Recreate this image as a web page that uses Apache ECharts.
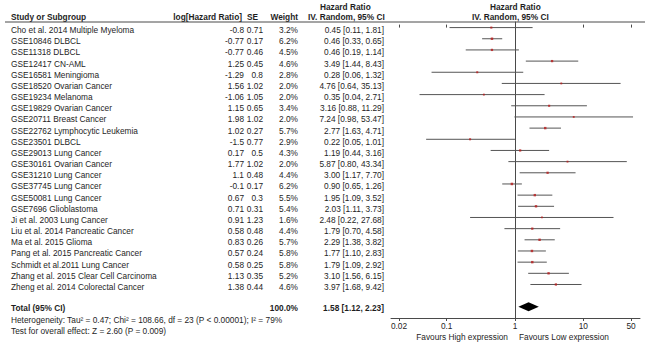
<!DOCTYPE html>
<html>
<head>
<meta charset="utf-8">
<script src="https://cdn.jsdelivr.net/npm/echarts@6/dist/echarts.min.js"></script>
<style>
  html, body { margin: 0; padding: 0; background: #fff; }
  #chart { width: 650px; height: 344px; }
</style>
</head>
<body>
<div id="chart"></div>
<script>
// study rows
const studies = [
  'Cho et al. 2014 Multiple Myeloma', 'GSE10846 DLBCL', 'GSE11318 DLBCL', 'GSE12417 CN-AML',
  'GSE16581 Meningioma', 'GSE18520 Ovarian Cancer', 'GSE19234 Melanoma', 'GSE19829 Ovarian Cancer',
  'GSE20711 Breast Cancer', 'GSE22762 Lymphocytic Leukemia', 'GSE23501 DLBCL', 'GSE29013 Lung Cancer',
  'GSE30161 Ovarian Cancer', 'GSE31210 Lung Cancer', 'GSE37745 Lung Cancer', 'GSE50081 Lung Cancer',
  'GSE7696 Glioblastoma', 'Ji et al. 2003 Lung Cancer', 'Liu et al. 2014 Pancreatic Cancer',
  'Ma et al. 2015 Glioma', 'Pang et al. 2015 Pancreatic Cancer', 'Schmidt et al.2011 Lung Cancer',
  'Zhang et al. 2015 Clear Cell Carcinoma', 'Zheng et al. 2014 Colorectal Cancer'
]
const logHR = [-0.8, -0.77, -0.77, 1.25, -1.29, 1.56, -1.06, 1.15, 1.98, 1.02, -1.5, 0.17, 1.77, 1.1, -0.1, 0.67, 0.71, 0.91, 0.58, 0.83, 0.57, 0.58, 1.13, 1.38]
const se = [0.71, 0.17, 0.46, 0.45, 0.8, 1.02, 1.05, 0.65, 1.02, 0.27, 0.77, 0.5, 1.02, 0.48, 0.17, 0.3, 0.31, 1.23, 0.48, 0.26, 0.24, 0.25, 0.35, 0.44]
const weight = [3.2, 6.2, 4.5, 4.6, 2.8, 2.0, 2.0, 3.4, 2.0, 5.7, 2.9, 4.3, 2.0, 4.4, 6.2, 5.5, 5.4, 1.6, 4.4, 5.7, 5.8, 5.8, 5.2, 4.6]
const hr = [0.45, 0.46, 0.46, 3.49, 0.28, 4.76, 0.35, 3.16, 7.24, 2.77, 0.22, 1.19, 5.87, 3.00, 0.90, 1.95, 2.03, 2.48, 1.79, 2.29, 1.77, 1.79, 3.10, 3.97]
const ciLow = [0.11, 0.33, 0.19, 1.44, 0.06, 0.64, 0.04, 0.88, 0.98, 1.63, 0.05, 0.44, 0.80, 1.17, 0.65, 1.09, 1.11, 0.22, 0.70, 1.38, 1.10, 1.09, 1.56, 1.68]
const ciHigh = [1.81, 0.65, 1.14, 8.43, 1.32, 35.13, 2.71, 11.29, 53.47, 4.71, 1.01, 3.16, 43.34, 7.70, 1.26, 3.52, 3.73, 27.68, 4.58, 3.82, 2.83, 2.92, 6.15, 9.42]

// pooled estimate
const totalHR = 1.58
const totalLow = 1.12
const totalHigh = 2.23
const totalRow = 25

const tickValues = [0.02, 0.1, 1, 10, 50]
const tickLabels = ['0.02', '0.1', '1', '10', '50']

const FONT = '"Liberation Sans", Arial, sans-serif'
const TXT = '#1e1e1e'
const LINE = '#4a4a4a'
const lg = v => Math.log10(v)

// table text: [x, row, text, align, bold]
const cells = []
cells.push([320, -1.85, 'Hazard Ratio', 'left', true])
cells.push([490, -1.85, 'Hazard Ratio', 'left', true])
cells.push([11, -0.93, 'Study or Subgroup', 'left', true])
cells.push([242, -0.93, 'log[Hazard Ratio]', 'right', true])
cells.push([258, -0.93, 'SE', 'right', true])
cells.push([298, -0.93, 'Weight', 'right', true])
cells.push([308, -0.93, 'IV. Random, 95% CI', 'left', true])
cells.push([472, -0.93, 'IV. Random, 95% CI', 'left', true])
studies.forEach((s, i) => {
  const r = i + 0.22
  cells.push([11, r, s, 'left', false])
  cells.push([244, r, String(logHR[i]), 'right', false])
  cells.push([263, r, String(se[i]), 'right', false])
  cells.push([298, r, weight[i].toFixed(1) + '%', 'right', false])
  cells.push([384, r, hr[i].toFixed(2) + ' [' + ciLow[i].toFixed(2) + ', ' + ciHigh[i].toFixed(2) + ']', 'right', false])
})
cells.push([11, totalRow + 0.1, 'Total (95% CI)', 'left', true])
cells.push([298, totalRow + 0.1, '100.0%', 'right', true])
cells.push([384, totalRow + 0.1, totalHR.toFixed(2) + ' [' + totalLow.toFixed(2) + ', ' + totalHigh.toFixed(2) + ']', 'right', true])
cells.push([11, 26.15, 'Heterogeneity: Tau\u00b2 = 0.47; Chi\u00b2 = 108.66, df = 23 (P < 0.00001); I\u00b2 = 79%', 'left', false])
cells.push([11, 27.12, 'Test for overall effect: Z = 2.60 (P = 0.009)', 'left', false])

const chart = echarts.init(document.getElementById('chart'), null, { renderer: 'svg' })

const xRange = { min: -1.8155, max: 1.83 }
const rowRange = { min: -0.5, max: 26, inverse: true }

chart.setOption({
  animation: false,
  textStyle: { fontFamily: FONT },
  grid: [
    { left: 391, right: 10, top: 22, bottom: 26 },
    { left: 0, right: 0, top: 22, bottom: 26 }
  ],
  xAxis: [
    {
      type: 'value', gridIndex: 0, position: 'bottom', ...xRange,
      axisLine: { onZero: false, lineStyle: { color: LINE, width: 1 } },
      axisTick: { length: 3, customValues: tickValues.map(lg), lineStyle: { color: LINE } },
      axisLabel: {
        customValues: tickValues.map(lg), margin: 4, color: TXT, fontSize: 8.3, fontFamily: FONT,
        formatter: v => {
          const k = tickValues.findIndex(t => Math.abs(lg(t) - v) < 1e-6)
          return k >= 0 ? tickLabels[k] : ''
        }
      },
      splitLine: { show: false }
    },
    {
      // upper half of the tick marks
      type: 'value', gridIndex: 0, position: 'bottom', ...xRange,
      axisLine: { show: false },
      axisTick: { inside: true, length: 3, customValues: tickValues.map(lg), lineStyle: { color: LINE } },
      axisLabel: { show: false },
      splitLine: { show: false }
    },
    { type: 'value', gridIndex: 1, min: 0, max: 650, show: false }
  ],
  yAxis: [
    {
      type: 'value', gridIndex: 0, ...rowRange,
      axisLine: { show: true, onZero: true, lineStyle: { color: LINE, width: 1 } },
      axisTick: { show: false }, axisLabel: { show: false }, splitLine: { show: false }
    },
    { type: 'value', gridIndex: 1, ...rowRange, show: false }
  ],
  graphic: [
    {
      type: 'line', shape: { x1: 5, y1: 22, x2: 645, y2: 22 },
      style: { stroke: LINE, lineWidth: 1 }, z: 10
    },
    {
      type: 'text', x: 508, y: 337,
      style: { text: 'Favours High expression', align: 'right', verticalAlign: 'middle', fontSize: 8.3, fontFamily: FONT, fill: TXT }
    },
    {
      type: 'text', x: 519, y: 337,
      style: { text: 'Favours Low expression', align: 'left', verticalAlign: 'middle', fontSize: 8.3, fontFamily: FONT, fill: TXT }
    }
  ],
  series: [
    {
      name: 'ci', type: 'custom', xAxisIndex: 0, yAxisIndex: 0,
      data: studies.map((s, i) => [lg(ciLow[i]), lg(ciHigh[i]), i]),
      encode: { x: [0, 1], y: 2 },
      renderItem: (params, api) => {
        const a = api.coord([api.value(0), api.value(2)])
        const b = api.coord([api.value(1), api.value(2)])
        return {
          type: 'line',
          shape: { x1: a[0], y1: a[1], x2: b[0], y2: b[1] },
          style: { stroke: '#555', lineWidth: 1 }
        }
      },
      z: 2
    },
    {
      name: 'hr', type: 'scatter', xAxisIndex: 0, yAxisIndex: 0,
      symbol: 'rect',
      data: studies.map((s, i) => ({ value: [lg(hr[i]), i], symbolSize: 1 + Math.sqrt(weight[i]) * 0.6 })),
      itemStyle: { color: '#b81c1c' },
      z: 3
    },
    {
      name: 'total', type: 'custom', xAxisIndex: 0, yAxisIndex: 0,
      data: [[lg(totalLow), lg(totalHR), lg(totalHigh), totalRow]],
      encode: { x: [0, 1, 2], y: 3 },
      renderItem: (params, api) => {
        const r = api.value(3)
        const l = api.coord([api.value(0), r])
        const top = api.coord([api.value(1), r - 0.4])
        const rt = api.coord([api.value(2), r])
        const bot = api.coord([api.value(1), r + 0.4])
        return {
          type: 'polygon',
          shape: { points: [l, top, rt, bot] },
          style: { fill: '#000' }
        }
      },
      z: 3
    },
    {
      name: 'table', type: 'custom', xAxisIndex: 2, yAxisIndex: 1,
      data: cells,
      encode: { x: 0, y: 1 },
      silent: true,
      renderItem: (params, api) => {
        const c = cells[params.dataIndex]
        const p = api.coord([c[0], c[1]])
        return {
          type: 'text', x: p[0], y: p[1],
          style: {
            text: c[2], align: c[3], verticalAlign: 'middle',
            textAlign: c[3], textVerticalAlign: 'middle',
            fontSize: 8.3, fontWeight: c[4] ? 'bold' : 'normal',
            fontFamily: FONT, fill: TXT
          }
        }
      }
    }
  ]
})
</script>
</body>
</html>
